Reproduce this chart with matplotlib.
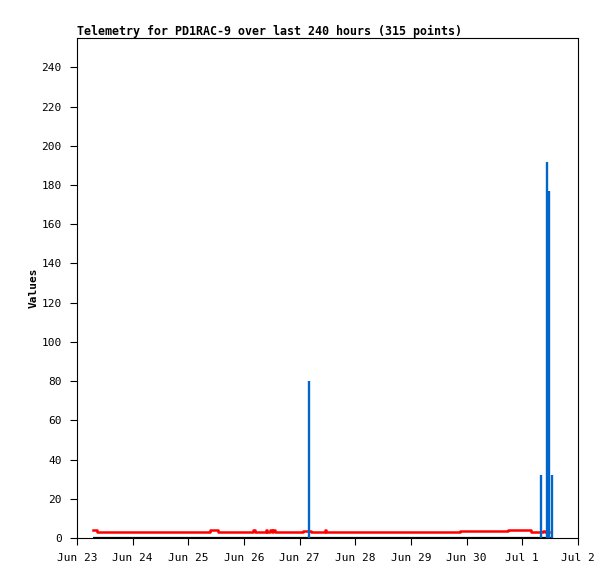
"""Telemetry chart for PD1RAC-9 — last 240 hours, static PNG export."""

from datetime import datetime, timedelta

import matplotlib
matplotlib.use("Agg")

import matplotlib.dates as mdates
import matplotlib.pyplot as plt

CORES = {
    "vermelho": "#FF0000",
    "azul": "#0066CC",
    "preto": "#000000",
}

plt.rcParams.update({
    "font.family": ["DejaVu Sans Mono"],
    "font.size": 8.0,
    "axes.linewidth": 0.8,
    "xtick.major.size": 5,
    "ytick.major.size": 5,
    "xtick.major.width": 0.8,
    "ytick.major.width": 0.8,
})

INICIO = datetime(2025, 6, 23)

# hours since Jun 23 00:00 -> value (step series, red)
red_hours = [7.0, 8.5, 57.4, 61.0, 76.0, 76.6, 81.4, 82.0, 83.3, 84.0, 84.7, 85.4,
             92.0, 97.6, 100.8, 106.8, 107.5, 165.0, 186.0, 195.6, 200.9, 201.6, 203.3]
red_vals = [4, 3, 4, 3, 4, 3, 4, 3, 4, 3, 4, 3,
            3.3, 3.8, 3, 4, 3, 3.4, 3.9, 3, 3.8, 3, 3]

# zero baseline series (black)
black_hours = [7.0, 204.5]
black_vals = [0, 0]

# spikes (blue bars)
blue_hours = [100.2, 200.0, 202.6, 203.5, 204.7]
blue_vals = [80, 32, 192, 177, 32]

x_ticks = [INICIO + timedelta(days=d) for d in range(10)]


def _horas(horas):
    return [INICIO + timedelta(hours=h) for h in horas]


fig = plt.figure(figsize=(6.15, 5.79), dpi=100)
ax = fig.add_axes([0.1252, 0.0708, 0.8146, 0.8636])

ax.plot(_horas(black_hours), black_vals, color=CORES["preto"], linewidth=1.6,
        solid_capstyle="butt")
ax.step(_horas(red_hours), red_vals, where="post", color=CORES["vermelho"],
        linewidth=1.8)
ax.vlines(_horas(blue_hours), 0, blue_vals, color=CORES["azul"], linewidth=1.7)

ax.set_ylim(0, 255)
ax.set_yticks(range(0, 241, 20))
ax.set_xlim(x_ticks[0], x_ticks[-1])
ax.set_xticks(x_ticks)
ax.xaxis.set_major_formatter(
    plt.FuncFormatter(lambda v, _: (lambda d: f"{d:%b} {d.day}")(mdates.num2date(v))))
ax.tick_params(axis="y", pad=6.0)
ax.tick_params(axis="x", pad=5.5)

ax.set_title("Telemetry for PD1RAC-9 over last 240 hours (315 points)",
             loc="left", fontsize=8.4, fontweight="bold", pad=2.5)
ax.set_ylabel("Values", fontsize=8.0, fontweight="bold", labelpad=2)

fig.savefig("out.png", dpi=100, facecolor="white")
plt.close(fig)
